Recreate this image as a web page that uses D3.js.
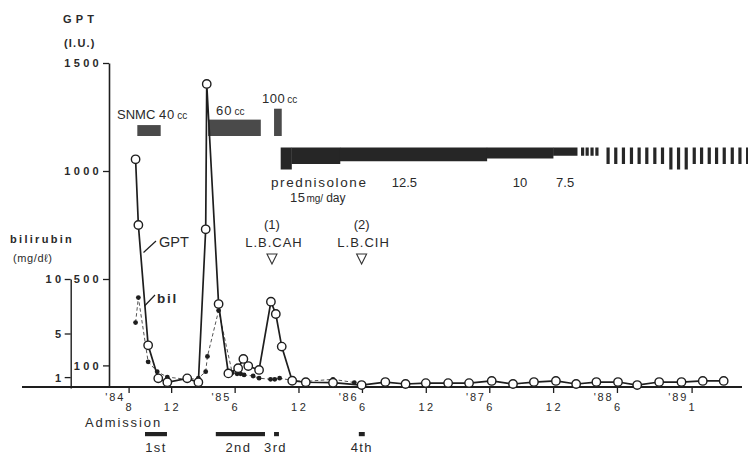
<!DOCTYPE html>
<html><head><meta charset="utf-8">
<script src="https://cdn.jsdelivr.net/npm/d3@7"></script>
<style>
html,body{margin:0;padding:0;background:#fff;}
svg{display:block;}
text{font-family:"Liberation Sans",Arial,Helvetica,sans-serif;fill:#2a2a2a;}
</style></head><body>
<svg id="chart" width="748" height="457"></svg>
<script>
// ---------------- data ----------------
const gptDates = ["1984-08-21","1984-08-29","1984-09-26","1984-10-25","1984-11-20","1985-01-16","1985-02-17","1985-03-10","1985-03-13","1985-04-16","1985-05-14","1985-06-11","1985-06-26","1985-07-10","1985-08-10","1985-09-13","1985-09-27","1985-10-14","1985-11-13","1985-12-22","1986-03-10","1986-05-31","1986-08-07","1986-10-04","1986-12-01","1987-02-03","1987-04-04","1987-06-08","1987-08-08","1987-10-07","1987-12-09","1988-02-05","1988-04-03","1988-06-04","1988-07-29","1988-09-30","1988-12-03","1989-02-02","1989-04-03"];
const gptValues = [1054,750,193,40,22,40,22,730,1403,384,63,87,130,97,79,395,338,187,29,22,20,9,23,14,18,18,18,28,14,23,28,14,23,23,9,23,23,28,28];

const bilDates = ["1984-08-21","1984-08-29","1984-09-26","1984-10-22","1984-11-20","1985-01-14","1985-02-17","1985-03-10","1985-03-15","1985-04-16","1985-05-25","1985-06-08","1985-06-18","1985-06-28","1985-07-24","1985-08-10","1985-09-12","1985-09-24","1985-10-08","1985-11-13","1985-12-22","1986-03-10","1986-05-10"];
const bilValues = [6.0,8.3,2.4,1.5,1.0,0.8,0.9,1.5,2.9,7.1,1.4,1.3,1.3,1.2,1.1,0.9,0.8,0.8,0.9,0.7,0.6,0.8,0.5];

const gptTicks = [100,500,1000,1500];
const bilTicks = [1,5,10];
const xTickDates  = ["1984-08-01","1984-12-01","1985-06-01","1985-12-01","1986-06-01","1986-12-01","1987-06-01","1987-12-01","1988-06-01","1989-01-01"];
const xTickMonths = ["8","12","6","12","6","12","6","12","6","1"];
const xTickYears  = ["'84","","'85","","'86","","'87","","'88","'89"];

// SNMC infusion periods (cc)
const snmcStart = ["1984-08-26","1985-03-17","1985-09-22"];
const snmcEnd   = ["1984-11-01","1985-08-15","1985-10-14"];
const snmcDose  = [40,60,100];

// prednisolone (mg/day), continuous dosing
const predStart = ["1985-10-11","1985-11-11","1986-03-30","1987-05-25","1987-12-01"];
const predEnd   = ["1985-11-11","1986-03-30","1987-05-25","1987-12-01","1988-02-08"];
const predDose  = [20,15,12.5,10,7.5];
const predDoseLabels = ["12.5","10","7.5"];
// intermittent prednisolone
const pulseDates = ["1988-02-19","1988-03-03","1988-03-17","1988-03-31","1988-05-02","1988-05-24","1988-06-15","1988-07-08","1988-07-30","1988-08-21","1988-09-13","1988-10-05","1988-10-29","1988-11-20","1988-12-12","1989-01-04","1989-01-25","1989-02-16","1989-03-09","1989-03-31","1989-04-23","1989-05-15","1989-06-06"];
const pulseDose  = [7.5,7.5,7.5,7.5,15,15,15,15,15,15,15,15,20,20,20,15,15,15,15,15,15,15,15];

// admissions
const admStart  = ["1984-09-17","1985-04-08","1985-09-22","1986-05-23"];
const admEnd    = ["1984-11-19","1985-08-27","1985-10-06","1986-06-09"];
const admLabels = ["1st","2nd","3rd","4th"];

// liver biopsies
const biopsyDates  = ["1985-09-16","1986-05-31"];
const biopsyNums   = ["(1)","(2)"];
const biopsyLabels = ["L.B.CAH","L.B.CIH"];

// ---------------- drawing ----------------
const parse = d3.timeParse("%Y-%m-%d");
const svg = d3.select("#chart");
const ink = "#1e1e1e";

const x = d3.scaleTime().domain([parse("1984-08-01"), parse("1989-01-01")]).range([128.6, 691.6]);
const yG = d3.scaleLinear().domain([0,1500]).range([387,63]);
const yB = d3.scaleLinear().domain([0,10]).range([388,279]);
const snmcH = d3.scaleLinear().domain([0,100]).range([0,27.3]);
const predH = d3.scaleLinear().domain([0,20]).range([0,22]);

const baseY = 387;

// baseline
svg.append("line").attr("x1",22).attr("x2",742).attr("y1",baseY).attr("y2",baseY)
  .attr("stroke",ink).attr("stroke-width",1.8);

// x ticks
const xAxis = d3.axisBottom(x).tickValues(xTickDates.map(parse)).tickSize(6).tickSizeOuter(0).tickFormat("");
const gx = svg.append("g").attr("transform",`translate(0,${baseY})`).call(xAxis);
gx.select(".domain").remove();
gx.selectAll(".tick line").attr("stroke",ink).attr("stroke-width",1.3);
xTickDates.forEach((d,i)=>{
  const tx = x(parse(d));
  svg.append("text").attr("x",tx+1.3).attr("y",411).attr("text-anchor","middle")
    .attr("font-size",11).attr("letter-spacing",2.6).text(xTickMonths[i]);
  if (xTickYears[i]) {
    svg.append("text").attr("x",tx-3.5).attr("y",401).attr("text-anchor","end")
      .attr("font-size",11).attr("letter-spacing",1.8).text(xTickYears[i]);
  }
});

// GPT axis
const gG = svg.append("g").attr("transform","translate(109,0)")
  .call(d3.axisLeft(yG).tickValues(gptTicks).tickSize(6).tickSizeOuter(0).tickFormat(d3.format("d")));
gG.select(".domain").attr("stroke",ink).attr("stroke-width",1.6);
gG.selectAll(".tick line").attr("stroke",ink).attr("stroke-width",1.3);
gG.selectAll(".tick text").attr("x",-7).attr("dy","0.36em").attr("font-size",11)
  .attr("letter-spacing",3.3).attr("font-weight","bold").attr("fill","#333").style("font-family",'"Liberation Sans",Arial,sans-serif');

// bilirubin axis
const gB = svg.append("g").attr("transform","translate(70.7,0)")
  .call(d3.axisLeft(yB).tickValues(bilTicks).tickSize(6).tickSizeOuter(0).tickFormat(d3.format("d")));
gB.select(".domain").attr("stroke",ink).attr("stroke-width",1.4);
gB.selectAll(".tick line").attr("stroke",ink).attr("stroke-width",1.3);
gB.selectAll(".tick text").attr("x",-6).attr("dy","0.36em").attr("font-size",11)
  .attr("letter-spacing",3.5).attr("font-weight","bold").attr("fill","#333").style("font-family",'"Liberation Sans",Arial,sans-serif');

// axis titles
svg.append("text").attr("x",63).attr("y",23).attr("font-size",11).attr("font-weight","bold")
  .attr("letter-spacing",4.2).attr("fill","#333").text("GPT");
svg.append("text").attr("x",64).attr("y",47).attr("font-size",11).attr("font-weight","bold")
  .attr("letter-spacing",1.2).attr("fill","#333").text("(I.U.)");
svg.append("text").attr("x",10).attr("y",243).attr("font-size",11).attr("font-weight","bold")
  .attr("letter-spacing",2.3).attr("fill","#333").text("bilirubin");
svg.append("text").attr("x",13).attr("y",262).attr("font-size",11)
  .attr("letter-spacing",0.6).attr("fill","#555").text("(mg/dℓ)");

// SNMC bars
const snmcBottom = 136;
snmcDose.forEach((d,i)=>{
  const x0 = x(parse(snmcStart[i])), x1 = x(parse(snmcEnd[i]));
  svg.append("rect").attr("x",x0).attr("width",x1-x0)
    .attr("y",snmcBottom-snmcH(d)).attr("height",snmcH(d)).attr("fill","#4a4a4a");
});
// SNMC labels
const snmc1 = svg.append("text").attr("x",117).attr("y",119).attr("font-size",13).attr("fill","#333");
snmc1.append("tspan").text("SNMC ");
snmc1.append("tspan").attr("letter-spacing",1).text(String(snmcDose[0]));
snmc1.append("tspan").attr("font-size",10).attr("dx",2).text("cc");
const snmc2 = svg.append("text").attr("x",216).attr("y",115).attr("font-size",13).attr("fill","#333");
snmc2.append("tspan").attr("letter-spacing",1).text(String(snmcDose[1]));
snmc2.append("tspan").attr("font-size",10).attr("dx",2).text("cc");
const snmc3 = svg.append("text").attr("x",262).attr("y",103).attr("font-size",13).attr("fill","#333");
snmc3.append("tspan").attr("letter-spacing",0.5).text(String(snmcDose[2]));
snmc3.append("tspan").attr("font-size",10).attr("dx",2).text("cc");

// prednisolone bars (top aligned)
const predTop = 147.5;
predDose.forEach((d,i)=>{
  const x0 = x(parse(predStart[i])), x1 = x(parse(predEnd[i]));
  svg.append("rect").attr("x",x0).attr("width",x1-x0+0.3)
    .attr("y",predTop).attr("height",predH(d)).attr("fill","#262626");
});
pulseDates.forEach((d,i)=>{
  const cx = x(parse(d));
  svg.append("rect").attr("x",cx).attr("width",3.2)
    .attr("y",predTop).attr("height",predH(pulseDose[i])).attr("fill","#262626");
});
svg.append("text").attr("x",271).attr("y",187).attr("font-size",13.5).attr("letter-spacing",1.6)
  .attr("fill","#333").text("prednisolone");
[2,3,4].forEach((k,j)=>{
  const xm = (x(parse(predStart[k])) + x(parse(predEnd[k])))/2;
  const off = [-9,0,0][j];
  svg.append("text").attr("x",xm+off).attr("y",187).attr("text-anchor","middle")
    .attr("font-size",13).attr("fill","#333").text(predDoseLabels[j]);
});
const pd = svg.append("text").attr("x",290).attr("y",202).attr("font-size",13).attr("fill","#333");
pd.append("tspan").attr("letter-spacing",0.5).text(String(predDose[1]));
pd.append("tspan").attr("font-size",10).attr("dx",1).text("mg/");
pd.append("tspan").attr("font-size",12).attr("dx",3).text("day");

// liver biopsy markers
biopsyDates.forEach((d,i)=>{
  const bx = x(parse(d));
  svg.append("text").attr("x",bx).attr("y",229).attr("text-anchor","middle").attr("font-size",13)
    .attr("fill","#333").text(biopsyNums[i]);
  svg.append("text").attr("x",bx+2).attr("y",247).attr("text-anchor","middle").attr("font-size",13)
    .attr("letter-spacing",1).attr("fill","#333").text(biopsyLabels[i]);
  svg.append("path").attr("d",`M${bx-5},254 L${bx+5},254 L${bx},264 Z`)
    .attr("fill","none").attr("stroke","#333").attr("stroke-width",1.1);
});

// bilirubin dashed line + dots
const bilData = bilDates.map((d,i)=>({d:parse(d), v:bilValues[i]}));
svg.append("path").datum(bilData)
  .attr("d", d3.line().x(p=>x(p.d)).y(p=>yB(p.v)))
  .attr("fill","none").attr("stroke","#555").attr("stroke-width",1).attr("stroke-dasharray","3.5,2.5");
svg.selectAll(".bil").data(bilData).enter().append("circle")
  .attr("cx",p=>x(p.d)).attr("cy",p=>yB(p.v)).attr("r",2.4).attr("fill","#1e1e1e");

// GPT line + circles
const gptData = gptDates.map((d,i)=>({d:parse(d), v:gptValues[i]}));
svg.append("path").datum(gptData)
  .attr("d", d3.line().x(p=>x(p.d)).y(p=>yG(p.v)))
  .attr("fill","none").attr("stroke",ink).attr("stroke-width",1.7);
svg.selectAll(".gpt").data(gptData).enter().append("circle")
  .attr("cx",p=>x(p.d)).attr("cy",p=>yG(p.v)).attr("r",4.2)
  .attr("fill","#fff").attr("stroke",ink).attr("stroke-width",1.4);

// series annotations
svg.append("line").attr("x1",156).attr("y1",241).attr("x2",143.5).attr("y2",252.5).attr("stroke",ink).attr("stroke-width",1.2);
svg.append("text").attr("x",159).attr("y",247).attr("font-size",14.5).attr("fill","#333").text("GPT");
svg.append("line").attr("x1",155).attr("y1",295).attr("x2",144.5).attr("y2",306).attr("stroke",ink).attr("stroke-width",1.2);
svg.append("text").attr("x",157).attr("y",303).attr("font-size",13.5).attr("font-weight","bold")
  .attr("letter-spacing",1.8).attr("fill","#333").text("bil");

// admissions
svg.append("text").attr("x",85).attr("y",427).attr("font-size",13).attr("letter-spacing",1.9)
  .attr("fill","#333").text("Admission");
admStart.forEach((d,i)=>{
  const x0 = x(parse(d)), x1 = x(parse(admEnd[i]));
  svg.append("rect").attr("x",x0).attr("width",Math.max(x1-x0,4)).attr("y",432).attr("height",4.2).attr("fill","#222");
});
const admLabelX = admStart.map((d,i)=>(x(parse(d))+x(parse(admEnd[i])))/2);
admLabels.forEach((t,i)=>{
  const off = [0,-2,-1,0][i];
  svg.append("text").attr("x",admLabelX[i]+off).attr("y",452).attr("text-anchor","middle")
    .attr("font-size",13).attr("letter-spacing",1.4).attr("fill","#333").text(t);
});
</script>
</body></html>
